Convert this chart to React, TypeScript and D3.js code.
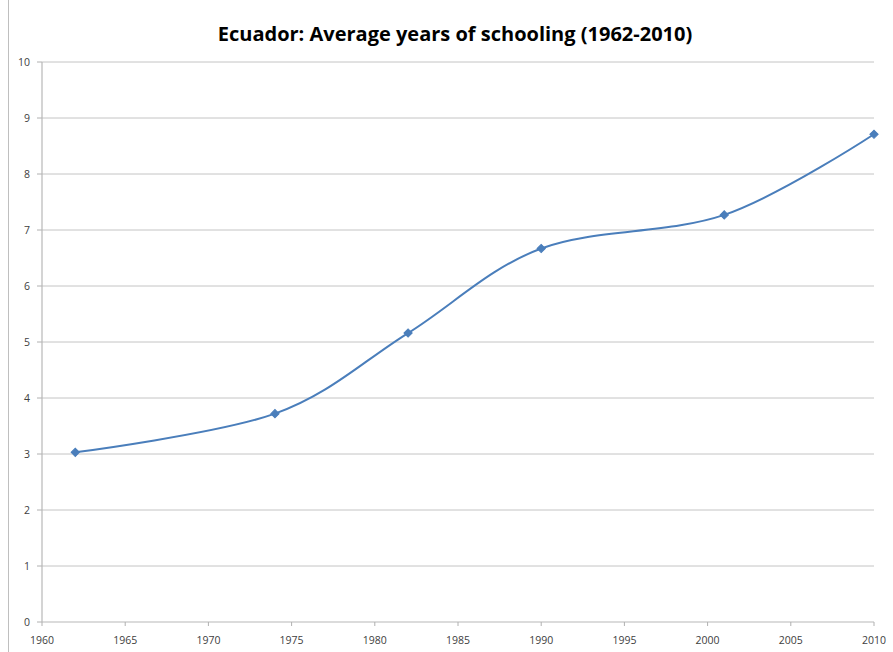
import React from "react";
import * as d3 from "d3";

const years = [1962, 1974, 1982, 1990, 2001, 2010];
const schooling = [3.03, 3.72, 5.16, 6.67, 7.27, 8.71];
const xTicks = [1960, 1965, 1970, 1975, 1980, 1985, 1990, 1995, 2000, 2005, 2010];
const yTicks = [0, 1, 2, 3, 4, 5, 6, 7, 8, 9, 10];
const title = "Ecuador: Average years of schooling (1962-2010)";

const W = 893;
const H = 652;
const left = 42;
const right = 874;
const top = 62;
const bottom = 622;

export default function App() {
  const x = d3.scaleLinear().domain([1960, 2010]).range([left, right]);
  const y = d3.scaleLinear().domain([0, 10]).range([bottom, top]);
  const pts: [number, number][] = years.map((yr, i) => [yr, schooling[i]]);
  const line = d3
    .line<[number, number]>()
    .x((d) => x(d[0]))
    .y((d) => y(d[1]))
    .curve(d3.curveCatmullRom.alpha(0));
  const marker = d3.symbol().type(d3.symbolSquare).size(34)();
  const font = "'Open Sans', 'Noto Sans', sans-serif";
  return (
    <svg
      width={W}
      height={H}
      style={{ position: "absolute", left: 0, top: 0, background: "#fff" }}
    >
      <rect x={0} y={0} width={W} height={H} fill="#fff" />
      <line x1={8.5} x2={8.5} y1={0} y2={H} stroke="#bfbfbf" strokeWidth={1} />
      <text
        x={455}
        y={41}
        textAnchor="middle"
        fontFamily={font}
        fontWeight="bold"
        fontSize={20}
        fill="#000"
      >
        {title}
      </text>
      {yTicks.map((t) => (
        <g key={t}>
          {t > 0 && (
            <line
              x1={left}
              x2={right}
              y1={y(t)}
              y2={y(t)}
              stroke="#c4c4c4"
              strokeWidth={1}
            />
          )}
          <line x1={left - 5} x2={left} y1={y(t)} y2={y(t)} stroke="#b0b0b0" />
          <text
            x={30}
            y={y(t)}
            dy="0.35em"
            textAnchor="end"
            fontFamily={font}
            fontSize={10.5}
            fill="#404040"
          >
            {t}
          </text>
        </g>
      ))}
      <line x1={left} x2={left} y1={top} y2={bottom} stroke="#b8b8b8" strokeWidth={1.2} />
      <line x1={left} x2={right} y1={bottom} y2={bottom} stroke="#b8b8b8" strokeWidth={1.2} />
      {xTicks.map((t) => (
        <g key={t}>
          <line x1={x(t)} x2={x(t)} y1={bottom} y2={bottom + 4} stroke="#b0b0b0" />
          <text
            x={x(t)}
            y={644}
            textAnchor="middle"
            fontFamily={font}
            fontSize={10.5}
            fill="#404040"
          >
            {t}
          </text>
        </g>
      ))}
      <path d={line(pts) || ""} fill="none" stroke="#4a7ebb" strokeWidth={2} />
      {pts.map((p, i) => (
        <path
          key={i}
          d={marker || ""}
          transform={`translate(${x(p[0])},${y(p[1])}) rotate(45)`}
          fill="#4a7ebb"
          stroke="#4a7ebb"
          strokeWidth={1}
        />
      ))}
    </svg>
  );
}
